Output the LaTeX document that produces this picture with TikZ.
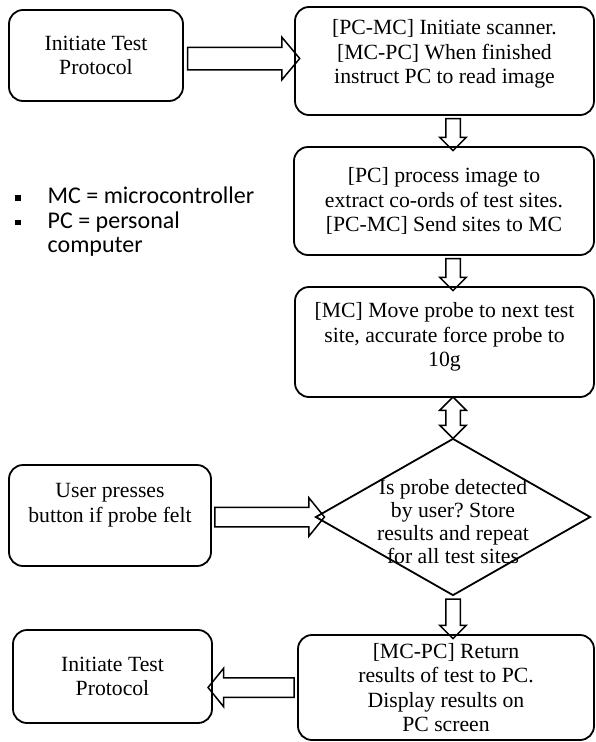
\documentclass[tikz,border=0pt]{standalone}
\usepackage{fontspec}
\setmainfont{Liberation Serif}
\newfontfamily\keyfont{Carlito}
\usetikzlibrary{shapes.geometric,shapes.arrows}
\frenchspacing

\begin{document}
\begin{tikzpicture}[x=1pt, y=-1pt,
    box/.style={draw, line width=1.8pt, rounded corners=14pt, align=center, inner sep=0pt,
      font=\fontsize{21.7}{24.5}\selectfont},
    decision/.style={draw, diamond, line width=1.8pt, inner sep=0pt, align=center,
      font=\fontsize{21.7}{23}\selectfont},
    fatarrow/.style 2 args={draw, single arrow, line width=1.5pt, inner sep=0pt,
      text height=#1, text depth=#1, single arrow head extend=#2, single arrow head indent=0pt},
    twoway/.style 2 args={draw, double arrow, line width=1.5pt, inner sep=0pt,
      text height=#1, text depth=#1, double arrow head extend=#2, double arrow head indent=0pt,
      double arrow tip angle=90},
    key/.style={inner sep=0pt, font=\keyfont\fontsize{24}{24.5}\selectfont}]
  \useasboundingbox (0,0) rectangle (596,742);

  % boxes
  \node[box, minimum width=174pt, minimum height=91pt] (start) at (96,55.5) {Initiate Test\\Protocol};
  \node[box, minimum width=299pt, minimum height=108pt, text depth=19pt] (scan) at (444.5,61)
    {[PC-MC] Initiate scanner.\\{[MC-PC]} When finished\\instruct PC to read image};
  \node[box, minimum width=300pt, minimum height=108pt] (proc) at (444,201)
    {[PC] process image to\\extract co-ords of test sites.\\{[PC-MC]} Send sites to MC};
  \node[box, minimum width=299pt, minimum height=110pt, text depth=14.7pt] (move) at (444.5,342)
    {[MC] Move probe to next test\\site, accurate force probe to\\10g};
  \node[decision, minimum width=275pt, minimum height=157pt,
    label={[yshift=-4.5pt, align=center, font=\fontsize{21.7}{23}\selectfont]center:Is probe detected\\by user? Store\\results and repeat\\for all test sites}]
    (detect) at (453,517) {};
  \node[box, minimum width=202pt, minimum height=101pt, text depth=25.7pt] (user) at (110,515.5)
    {User presses\\button if probe felt};
  \node[box, minimum width=296pt, minimum height=105pt] (result) at (446,687.5)
    {[MC-PC] Return\\results of test to PC.\\Display results on\\PC screen};
  \node[box, minimum width=199pt, minimum height=93pt] (finish) at (112.5,676.5) {Initiate Test\\Protocol};

  % legend
  \node[key, anchor=west] (legend) at (15,223.5) {%
    \begin{tabular}{@{}c@{\hspace{27pt}}l@{}}
      \rule[3pt]{5.5pt}{5.5pt} & MC = microcontroller\\
      \rule[3pt]{5.5pt}{5.5pt} & PC = personal\\
       & computer
    \end{tabular}};

  % block arrows
  \path ([yshift=-3pt]start.east) -- ([yshift=-3pt]start.east -| scan.west)
    node[midway, fatarrow={10.5pt}{10pt}, single arrow tip angle=100, minimum height=112pt] (a1) {};
  \path (scan.south -| detect.north) -- (proc.north -| detect.north)
    node[midway, fatarrow={6.5pt}{6pt}, single arrow tip angle=90, minimum height=32pt, rotate=-90] (a2) {};
  \path (proc.south -| detect.north) -- (move.north -| detect.north)
    node[midway, fatarrow={6.5pt}{6pt}, single arrow tip angle=90, minimum height=32pt, rotate=-90] (a3) {};
  \path (move.south -| detect.north) -- (detect.north)
    node[midway, twoway={6.5pt}{6pt}, minimum height=41.5pt, rotate=90] (a4) {};
  \path (user.east |- detect.west) -- ([xshift=5pt]detect.west)
    node[midway, fatarrow={9pt}{9.5pt}, single arrow tip angle=102, minimum height=109.5pt] (a5) {};
  \path (detect.south) -- (result.north -| detect.south)
    node[midway, fatarrow={6.5pt}{6pt}, single arrow tip angle=90, minimum height=39.5pt, rotate=-90] (a6) {};
  \path (result.west) -- (result.west -| finish.east)
    node[midway, fatarrow={9pt}{9.5pt}, single arrow tip angle=102, minimum height=86pt, rotate=180] (a7) {};
\end{tikzpicture}
\end{document}
